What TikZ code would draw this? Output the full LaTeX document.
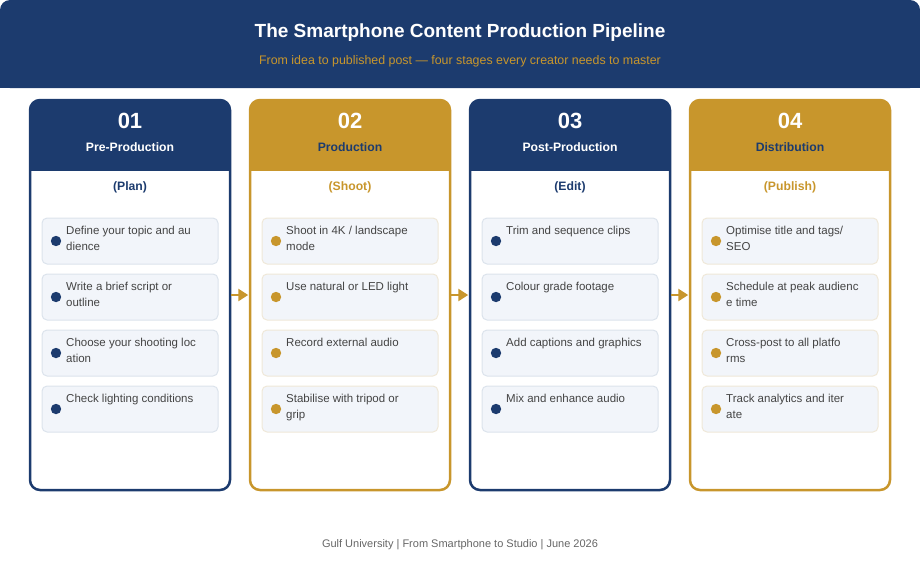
\documentclass[tikz,border=0pt]{standalone}
\usepackage{fontspec}
\setmainfont{Liberation Sans}
\usetikzlibrary{arrows.meta}
\definecolor{navy}{HTML}{1C3B6E}
\definecolor{gold}{HTML}{C8962C}
\definecolor{itemfill}{HTML}{F2F5FA}
\definecolor{itemlineA}{HTML}{DCE3EC}
\definecolor{itemlineB}{HTML}{EFE8D8}
\definecolor{txt}{HTML}{444444}
\definecolor{foot}{HTML}{666666}
\tikzset{
  colbox/.style={draw, line width=2.5pt, rounded corners=10pt, minimum width=200pt, minimum height=390pt, inner sep=0pt},
  itembox/.style={fill=itemfill, line width=1pt, rounded corners=5pt, minimum width=176pt, minimum height=46pt, inner sep=0pt},
  itemtext/.style={anchor=north west, inner sep=0pt, align=left, text=txt, font=\fontsize{11.5}{16}\selectfont},
  numtext/.style={font=\bfseries\fontsize{22}{26}\selectfont},
  nametext/.style={font=\bfseries\fontsize{12.2}{15}\selectfont},
  flow/.style={draw=gold, line width=2.8pt, -{Triangle[length=10pt,width=12pt]}, shorten >=0.5pt}
}
\begin{document}
\begin{tikzpicture}[x=1pt,y=-1pt]
\useasboundingbox (0,0) rectangle (920,560);
% header band
\fill[navy, rounded corners=10pt] (0,0) rectangle (920,88);
\fill[navy] (0,40) rectangle (920,88);
\node[text=white, font=\bfseries\fontsize{19}{23}\selectfont] (title) at (460,32.5) {The Smartphone Content Production Pipeline};
\node[text=gold, font=\fontsize{12.4}{15}\selectfont] (subtitle) at (460,61) {From idea to published post — four stages every creator needs to master};

% columns
\foreach \i/\cx/\main/\num/\name/\namecol/\sub/\ilc in {
  1/130/navy/01/Pre-Production/white/Plan/itemlineA,
  2/350/gold/02/Production/navy/Shoot/itemlineB,
  3/570/navy/03/Post-Production/white/Edit/itemlineA,
  4/790/gold/04/Distribution/navy/Publish/itemlineB}{
  \begin{scope}
    \clip[rounded corners=10pt] (\cx-100,100) rectangle (\cx+100,490);
    \fill[\main] (\cx-100,100) rectangle (\cx+100,171);
  \end{scope}
  \node[colbox, draw=\main] (c\i) at (\cx,295) {};
  \node[text=white, numtext] (n\i) at (\cx,121) {\num};
  \node[text=\namecol, nametext] (h\i) at (\cx,147) {\name};
  \node[text=\main, nametext] (s\i) at (\cx,187) {(\sub)};
  \foreach \j in {1,...,4}{
    \node[itembox, draw=\ilc] (b\i\j) at (\cx,241+56*\j-56) {};
    \fill[\main] (\cx-74,241+56*\j-56) circle (5.2pt);
  }
}

% item texts
\node[itemtext] (t11) at (66,226) {Define your topic and au\\dience};
\node[itemtext] (t12) at (66,282) {Write a brief script or\\outline};
\node[itemtext] (t13) at (66,338) {Choose your shooting loc\\ation};
\node[itemtext] (t14) at (66,394) {Check lighting conditions};

\node[itemtext] (t21) at (286,226) {Shoot in 4K / landscape\\mode};
\node[itemtext] (t22) at (286,282) {Use natural or LED light};
\node[itemtext] (t23) at (286,338) {Record external audio};
\node[itemtext] (t24) at (286,394) {Stabilise with tripod or\\grip};

\node[itemtext] (t31) at (506,226) {Trim and sequence clips};
\node[itemtext] (t32) at (506,282) {Colour grade footage};
\node[itemtext] (t33) at (506,338) {Add captions and graphics};
\node[itemtext] (t34) at (506,394) {Mix and enhance audio};

\node[itemtext] (t41) at (726,226) {Optimise title and tags/\\SEO};
\node[itemtext] (t42) at (726,282) {Schedule at peak audienc\\e time};
\node[itemtext] (t43) at (726,338) {Cross-post to all platfo\\rms};
\node[itemtext] (t44) at (726,394) {Track analytics and iter\\ate};

% connectors
\draw[flow] (c1.east) -- (c2.west);
\draw[flow] (c2.east) -- (c3.west);
\draw[flow] (c3.east) -- (c4.west);

% footer
\node[text=foot, font=\fontsize{11}{14}\selectfont] (footer) at (460,545) {Gulf University | From Smartphone to Studio | June 2026};
\end{tikzpicture}
\end{document}
